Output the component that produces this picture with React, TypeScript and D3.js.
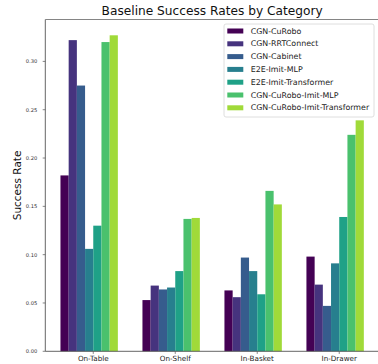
import React from "react";
import * as d3 from "d3";

const categories = ["On-Table", "On-Shelf", "In-Basket", "In-Drawer"];
const seriesNames = [
  "CGN-CuRobo",
  "CGN-RRTConnect",
  "CGN-Cabinet",
  "E2E-Imit-MLP",
  "E2E-Imit-Transformer",
  "CGN-CuRobo-Imit-MLP",
  "CGN-CuRobo-Imit-Transformer",
];
// values per series, in category order
const cgnCuRobo = [0.182, 0.053, 0.063, 0.098];
const cgnRRTConnect = [0.322, 0.068, 0.056, 0.069];
const cgnCabinet = [0.275, 0.064, 0.097, 0.047];
const e2eMLP = [0.106, 0.066, 0.083, 0.091];
const e2eTransformer = [0.13, 0.083, 0.059, 0.139];
const cuRoboImitMLP = [0.32, 0.137, 0.166, 0.224];
const cuRoboImitTransformer = [0.327, 0.138, 0.152, 0.239];
const seriesValues = [
  cgnCuRobo,
  cgnRRTConnect,
  cgnCabinet,
  e2eMLP,
  e2eTransformer,
  cuRoboImitMLP,
  cuRoboImitTransformer,
];
const colors = ["#440154", "#46337e", "#365c8d", "#277f8e", "#1fa187", "#4ac16d", "#a0da39"];
const yTicks = [0, 0.05, 0.1, 0.15, 0.2, 0.25, 0.3];

const W = 378;
const H = 364;
const FONT = "DejaVu Sans, sans-serif";

export default function App() {
  const barW = 0.1;
  const maxVal = d3.max(seriesValues.flat()) as number;

  // matplotlib-like auto margins
  const xMin = -4 * barW;
  const xMax = categories.length - 1 + 3 * barW;
  const pad = (xMax - xMin) * 0.05;
  const x = d3.scaleLinear().domain([xMin - pad, xMax + pad]).range([45.3, 379]);
  const y = d3.scaleLinear().domain([0, maxVal * 1.05]).range([351.3, 19.5]);

  const left = x.range()[0];
  const right = x.range()[1];
  const top = y.range()[1];
  const bottom = y.range()[0];
  const fmt = d3.format(".2f");

  return (
    <svg
      width={W}
      height={H}
      style={{ position: "absolute", left: 0, top: 0, background: "#fff" }}
      fontFamily={FONT}
    >
      <rect x={0} y={0} width={W} height={H} fill="#fff" />
      <text x={(left + right) / 2} y={15.3} textAnchor="middle" fontSize={12.2} fill="#111">
        Baseline Success Rates by Category
      </text>

      {seriesValues.map((vals, k) =>
        vals.map((v, i) => {
          const x0 = x(i + (k - 4) * barW);
          const x1 = x(i + (k - 3) * barW);
          return (
            <rect
              key={`${k}-${i}`}
              x={x0}
              y={y(v)}
              width={x1 - x0}
              height={y(0) - y(v)}
              fill={colors[k]}
            />
          );
        })
      )}

      {/* spines */}
      <line x1={left} x2={left} y1={top} y2={bottom} stroke="#555" strokeWidth={0.9} />
      <line x1={left} x2={right} y1={bottom} y2={bottom} stroke="#555" strokeWidth={0.9} />
      <line x1={left} x2={right} y1={top} y2={top} stroke="#777" strokeWidth={0.9} />
      <line x1={right} x2={right} y1={top} y2={bottom} stroke="#777" strokeWidth={0.9} />

      {/* y axis */}
      {yTicks.map((t) => (
        <g key={t}>
          <line x1={left - 2.6} x2={left} y1={y(t)} y2={y(t)} stroke="#555" strokeWidth={0.7} />
          <text
            x={left - 8}
            y={y(t)}
            textAnchor="end"
            dominantBaseline="central"
            fontSize={5.2}
            fill="#333"
          >
            {fmt(t)}
          </text>
        </g>
      ))}
      <text
        transform={`translate(21,${(top + bottom) / 2}) rotate(-90)`}
        textAnchor="middle"
        fontSize={10.5}
        fill="#111"
      >
        Success Rate
      </text>

      {/* x axis */}
      {categories.map((c, i) => (
        <g key={c}>
          <line x1={x(i)} x2={x(i)} y1={bottom} y2={bottom + 2.6} stroke="#555" strokeWidth={0.7} />
          <text x={x(i)} y={361.3} textAnchor="middle" fontSize={7.2} fill="#222">
            {c}
          </text>
        </g>
      ))}

      {/* legend */}
      <rect x={224} y={24} width={150} height={93} rx={2} fill="#fff" fillOpacity={0.85} stroke="#d5d5d5" strokeWidth={0.8} />
      {seriesNames.map((name, k) => {
        const cy = 31 + k * 12.8;
        return (
          <g key={name}>
            <rect x={227.3} y={cy - 2.5} width={16} height={5} fill={colors[k]} />
            <text x={250.7} y={cy} dominantBaseline="central" fontSize={7.9} fill="#222">
              {name}
            </text>
          </g>
        );
      })}
    </svg>
  );
}
